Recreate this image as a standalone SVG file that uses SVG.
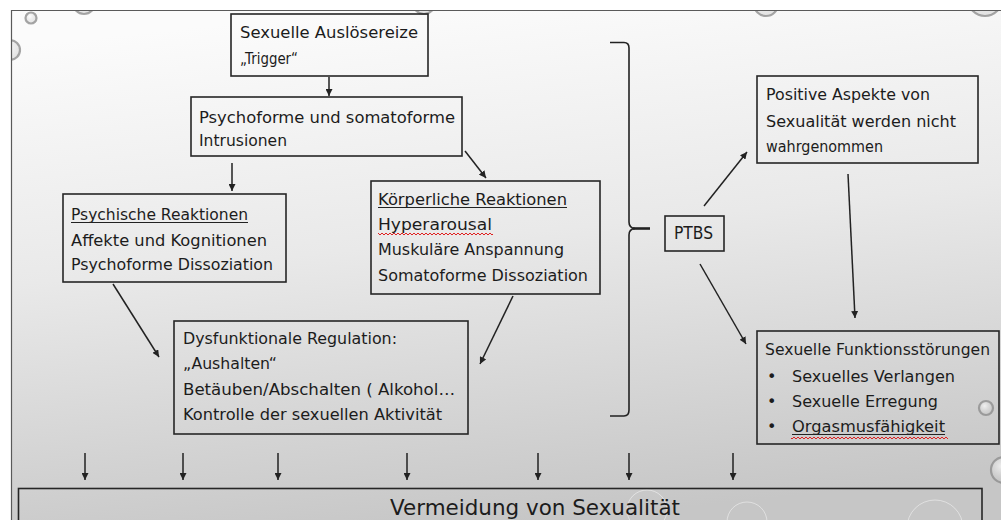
<svg xmlns="http://www.w3.org/2000/svg" width="1001" height="520" viewBox="0 0 1001 520">
  <defs>
    <style>
      .t { font-family: "DejaVu Sans", "Liberation Sans", sans-serif; font-size: 16px; fill: #1c1c1c; }
      .ptbs { font-family: "DejaVu Sans Condensed", "DejaVu Sans", sans-serif; font-size: 17px; fill: #1c1c1c; }
      .big { font-family: "DejaVu Sans", "Liberation Sans", sans-serif; font-size: 22px; fill: #1c1c1c; }
      .box { fill: none; stroke: #262626; stroke-width: 1.6; }
      .edge { fill: none; stroke: #222; stroke-width: 1.5; marker-end: url(#head); }
      .ul { stroke: #222; stroke-width: 1.1; }
      .frame { stroke: #5a5a5a; stroke-width: 1.2; fill: none; }
      .drop { fill: url(#dropFill); stroke: #8a8a8a; stroke-width: 2.2; stroke-opacity: 0.75; }
      .faint { fill: none; stroke: #ffffff; stroke-width: 1; stroke-opacity: 0.45; }
    </style>
    <linearGradient id="bg" x1="0.35" y1="0" x2="0.55" y2="1">
      <stop offset="0" stop-color="#fbfbfb"/>
      <stop offset="0.45" stop-color="#e9e9e9"/>
      <stop offset="1" stop-color="#c6c6c6"/>
    </linearGradient>
    <radialGradient id="dropFill" cx="0.4" cy="0.35" r="0.7">
      <stop offset="0" stop-color="#ffffff" stop-opacity="0.7"/>
      <stop offset="1" stop-color="#bdbdbd" stop-opacity="0.35"/>
    </radialGradient>
    <pattern id="wave" width="4" height="4" patternUnits="userSpaceOnUse">
      <path d="M0,3 L2,1 L4,3" fill="none" stroke="#e02020" stroke-width="1"/>
    </pattern>
    <clipPath id="slide">
      <rect x="11.5" y="10.5" width="990" height="510"/>
    </clipPath>
    <marker id="head" markerUnits="userSpaceOnUse" markerWidth="8" markerHeight="7" refX="7" refY="3.5" orient="auto">
      <path d="M0,0 L7,3.5 L0,7 z" fill="#222"/>
    </marker>
  </defs>

  <!-- page and slide background -->
  <rect x="0" y="0" width="1001" height="520" fill="#ffffff"/>
  <rect x="11.5" y="10.5" width="990" height="510" fill="url(#bg)"/>

  <!-- water drop decoration -->
  <g id="drops" clip-path="url(#slide)">
    <circle class="drop" cx="31" cy="18" r="5.5" stroke-width="1.2" stroke-opacity="0.5"/>
    <circle class="drop" cx="84" cy="3" r="11"/>
    <circle class="drop" cx="10" cy="50" r="10" stroke-width="1.6"/>
    <circle class="drop" cx="424" cy="3" r="11"/>
    <circle class="drop" cx="766" cy="4" r="12"/>
    <circle class="drop" cx="985" cy="-1" r="17"/>
    <circle class="drop" cx="986" cy="408" r="7" stroke-width="1.2" stroke-opacity="0.4"/>
    <circle class="drop" cx="1004" cy="470" r="13" stroke-width="1.2" stroke-opacity="0.4"/>
    <circle class="faint" cx="647" cy="510" r="20"/>
    <circle class="faint" cx="747" cy="522" r="20"/>
    <circle class="faint" cx="935" cy="528" r="28"/>
  </g>

  <!-- slide frame -->
  <path class="frame" d="M11.5,520 L11.5,10.5 L1001,10.5"/>

  <!-- connectors -->
  <g id="connectors">
    <line class="edge" x1="329" y1="77" x2="329" y2="96"/>
    <line class="edge" x1="232" y1="163" x2="232" y2="191"/>
    <line class="edge" x1="465" y1="151" x2="486" y2="178"/>
    <line class="edge" x1="113" y1="284" x2="159" y2="357"/>
    <line class="edge" x1="513" y1="296" x2="480" y2="364"/>
    <line class="edge" x1="704" y1="206" x2="747" y2="152"/>
    <line class="edge" x1="700" y1="264" x2="746" y2="344"/>
    <line class="edge" x1="848" y1="174" x2="855" y2="318"/>
    <line class="edge" x1="85" y1="453" x2="85" y2="480"/>
    <line class="edge" x1="183" y1="453" x2="183" y2="480"/>
    <line class="edge" x1="278" y1="453" x2="278" y2="480"/>
    <line class="edge" x1="407" y1="453" x2="407" y2="480"/>
    <line class="edge" x1="538" y1="453" x2="538" y2="480"/>
    <line class="edge" x1="629" y1="453" x2="629" y2="480"/>
    <line class="edge" x1="733" y1="453" x2="733" y2="480"/>
    <!-- curly bracket grouping the reactions -->
    <path d="M610,42.5 L624,42.5 Q629,42.5 629,48 L629,222 Q629,228 635,228.5 Q629,229 629,235 L629,410 Q629,416 624,416 L610,416" fill="none" stroke="#222" stroke-width="1.6"/>
    <line x1="633" y1="228.5" x2="650" y2="228.5" stroke="#222" stroke-width="2.6"/>
  </g>

  <g id="trigger">
    <rect class="box" x="231" y="14" width="197" height="62"/>
    <text class="t" x="240" y="38" textLength="178" lengthAdjust="spacingAndGlyphs">Sexuelle Auslösereize</text>
    <text class="t" x="240" y="64" textLength="58" lengthAdjust="spacingAndGlyphs">„Trigger“</text>
  </g>

  <g id="intrusionen">
    <rect class="box" x="191" y="97" width="271" height="59"/>
    <text class="t" x="199" y="123" textLength="256" lengthAdjust="spacingAndGlyphs">Psychoforme und somatoforme</text>
    <text class="t" x="199" y="146" textLength="88" lengthAdjust="spacingAndGlyphs">Intrusionen</text>
  </g>

  <g id="psychisch">
    <rect class="box" x="63" y="194" width="223" height="88"/>
    <text class="t" x="71" y="220" textLength="177" lengthAdjust="spacingAndGlyphs">Psychische Reaktionen</text>
    <line class="ul" x1="71" y1="222.5" x2="248" y2="222.5"/>
    <text class="t" x="71" y="246" textLength="196" lengthAdjust="spacingAndGlyphs">Affekte und Kognitionen</text>
    <text class="t" x="71" y="270" textLength="202" lengthAdjust="spacingAndGlyphs">Psychoforme Dissoziation</text>
  </g>

  <g id="koerperlich">
    <rect class="box" x="371" y="181" width="229" height="113"/>
    <text class="t" x="378" y="205" textLength="189" lengthAdjust="spacingAndGlyphs">Körperliche Reaktionen</text>
    <line class="ul" x1="378" y1="207.5" x2="567" y2="207.5"/>
    <text class="t" x="378" y="230" textLength="114" lengthAdjust="spacingAndGlyphs">Hyperarousal</text>
    <rect x="378" y="233" width="115" height="4" fill="url(#wave)"/>
    <text class="t" x="378" y="255" textLength="186" lengthAdjust="spacingAndGlyphs">Muskuläre Anspannung</text>
    <text class="t" x="378" y="281" textLength="210" lengthAdjust="spacingAndGlyphs">Somatoforme Dissoziation</text>
  </g>

  <g id="regulation">
    <rect class="box" x="174" y="321" width="294" height="113"/>
    <text class="t" x="183" y="344" textLength="214" lengthAdjust="spacingAndGlyphs">Dysfunktionale Regulation:</text>
    <text class="t" x="183" y="369" textLength="94" lengthAdjust="spacingAndGlyphs">„Aushalten“</text>
    <text class="t" x="183" y="395" textLength="272" lengthAdjust="spacingAndGlyphs">Betäuben/Abschalten ( Alkohol…</text>
    <text class="t" x="183" y="420" textLength="259" lengthAdjust="spacingAndGlyphs">Kontrolle der sexuellen Aktivität</text>
  </g>

  <g id="ptbs">
    <rect class="box" x="665" y="216" width="59" height="35"/>
    <text class="ptbs" x="674" y="239" textLength="39" lengthAdjust="spacingAndGlyphs">PTBS</text>
  </g>

  <g id="positiv">
    <rect class="box" x="757" y="76" width="221" height="87"/>
    <text class="t" x="766" y="100" textLength="164" lengthAdjust="spacingAndGlyphs">Positive Aspekte von</text>
    <text class="t" x="766" y="127" textLength="190" lengthAdjust="spacingAndGlyphs">Sexualität werden nicht</text>
    <text class="t" x="766" y="152" textLength="117" lengthAdjust="spacingAndGlyphs">wahrgenommen</text>
  </g>

  <g id="funktionsstoerungen">
    <rect class="box" x="757" y="331" width="242" height="113"/>
    <text class="t" x="765" y="355" textLength="225" lengthAdjust="spacingAndGlyphs">Sexuelle Funktionsstörungen</text>
    <text class="t" x="767" y="382">•</text>
    <text class="t" x="792" y="382" textLength="163" lengthAdjust="spacingAndGlyphs">Sexuelles Verlangen</text>
    <text class="t" x="767" y="407">•</text>
    <text class="t" x="792" y="407" textLength="146" lengthAdjust="spacingAndGlyphs">Sexuelle Erregung</text>
    <text class="t" x="767" y="432">•</text>
    <text class="t" x="792" y="432" textLength="153" lengthAdjust="spacingAndGlyphs">Orgasmusfähigkeit</text>
    <line class="ul" x1="792" y1="434.5" x2="945" y2="434.5"/>
    <rect x="791" y="435" width="157" height="4" fill="url(#wave)"/>
  </g>

  <g id="vermeidung">
    <rect class="box" x="18.5" y="488.5" width="963.5" height="40"/>
    <text class="big" x="390" y="515" textLength="290" lengthAdjust="spacingAndGlyphs">Vermeidung von Sexualität</text>
  </g>
</svg>
